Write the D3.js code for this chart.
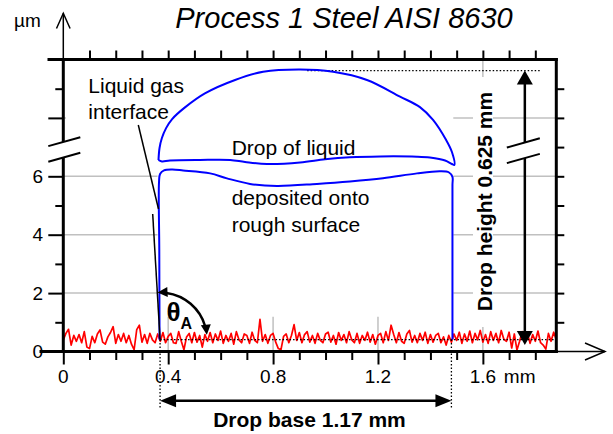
<!DOCTYPE html>
<html>
<head>
<meta charset="utf-8">
<script src="https://cdn.jsdelivr.net/npm/d3@7/dist/d3.min.js"></script>
<style>
  body { margin: 0; background: #fff; }
  svg { display: block; }
  text { font-family: "Liberation Sans", Arial, sans-serif; fill: #000; }
</style>
</head>
<body>
<div class="drop-chart"></div>
<script>
// ---- values ----
const titleText = "Process 1 Steel AISI 8630";
const xTickValues = [0, 0.4, 0.8, 1.2, 1.6];
const xTickLabels = ["0", "0.4", "0.8", "1.2", "1.6"];
const yTickValues = [0, 2, 4, 6];
const yTickLabels = ["0", "2", "4", "6"];
const gridX = [0.4, 0.8, 1.2, 1.6];
const gridY = [2, 4, 6, 8];

// surface roughness profile, one value every 0.01 mm (um)
const profileStep = 0.01;
const roughness = [
  0.40, 0.62, 0.76, 0.22, 0.55, 0.35, 0.58, 0.30, 0.68, 0.15,
  0.10, 0.52, 0.30, 0.60, 0.74, 0.32, 0.25, 0.50, 0.65, 0.85,
  0.28, 0.58, 0.35, 0.62, 0.30, 0.55, 0.25, 0.06, 0.75, 0.90,
  0.32, 0.58, 0.28, 0.62, 0.40, 0.30, 0.60, 0.35, 0.65, 0.30,
  0.52, 0.62, 0.30, 0.28, 0.68, 0.35, 0.06, 0.50, 0.62, 0.30,
  0.65, 0.32, 0.55, 0.15, 0.58, 0.35, 0.65, 0.30, 0.60, 0.38,
  0.70, 0.28, 0.55, 0.35, 0.62, 0.25, 0.68, 0.40, 0.30, 0.60,
  0.55, 0.28, 0.66, 0.38, 0.30, 1.10, 0.35, 0.58, 0.28, 0.55,
  0.62, 0.32, 0.10, 0.06, 0.52, 0.60, 0.30, 0.55, 0.92, 0.38,
  0.65, 0.30, 0.58, 0.68, 0.32, 0.55, 0.28, 0.62, 0.38, 0.30,
  0.60, 0.66, 0.32, 0.55, 0.25, 0.65, 0.38, 0.58, 0.30, 0.68,
  0.40, 0.30, 0.62, 0.28, 0.55, 0.38, 0.66, 0.32, 0.58, 0.25,
  0.55, 0.62, 0.30, 0.68, 0.38, 0.90, 0.58, 0.30, 0.65, 0.35,
  0.28, 0.60, 0.72, 0.32, 0.55, 0.30, 0.62, 0.38, 0.66, 0.28,
  0.58, 0.32, 0.55, 0.62, 0.30, 0.50, 0.22, 0.55, 0.32, 0.60,
  0.38, 0.66, 0.28, 0.60, 0.35, 0.70, 0.30, 0.62, 0.40, 0.72,
  0.32, 0.58, 0.28, 0.68, 0.38, 0.62, 0.30, 0.72, 0.42, 0.35,
  0.66, 0.12, 0.60, 0.05, 0.35, 0.68, 0.38, 0.62, 0.28, 0.58,
  0.35, 0.70, 0.30, 0.22, 0.08, 0.62, 0.35, 0.66, 0.40
];

// drop outline [mm, um on the drawn axis]
const capOutline = [
  [0.363, 6.56], [0.367, 6.97], [0.376, 7.31], [0.392, 7.65], [0.415, 7.96],
  [0.464, 8.36], [0.540, 8.84], [0.655, 9.30], [0.762, 9.58], [0.903, 9.66],
  [1.029, 9.58], [1.158, 9.30], [1.284, 8.73], [1.360, 8.37], [1.410, 7.93],
  [1.460, 7.24], [1.482, 6.83], [1.491, 6.39], [1.482, 6.42], [1.456, 6.54],
  [1.398, 6.64], [1.349, 6.67], [1.208, 6.68], [1.093, 6.65], [0.998, 6.58],
  [0.903, 6.47], [0.777, 6.42], [0.693, 6.49], [0.636, 6.56], [0.521, 6.56],
  [0.407, 6.54], [0.376, 6.51]
];
const baseOutline = [
  [0.367, 0.41], [0.366, 3.48], [0.365, 5.80], [0.369, 6.08], [0.384, 6.20],
  [0.415, 6.23], [0.457, 6.20], [0.560, 6.10], [0.624, 5.93], [0.712, 5.74],
  [0.815, 5.67], [0.967, 5.74], [1.093, 5.82], [1.219, 5.93], [1.349, 6.10],
  [1.437, 6.17], [1.471, 6.13], [1.484, 5.98], [1.484, 5.70], [1.484, 3.48],
  [1.484, 0.41]
];

const dropBase = [0.369, 1.48];
const baselineLevel = 0.41;
const dropTop = 9.62;
const heightArrowX = 1.76;
const heightArrowBottom = 0.22;

// ---- drawing ----
const width = 613, height = 434;
const x = d3.scaleLinear().domain([0, 1.88]).range([63.3, 556.3]);
const y = d3.scaleLinear().domain([0, 10]).range([351.5, 59.5]);

const svg = d3.select(".drop-chart").append("svg")
  .attr("width", width).attr("height", height);

svg.append("rect").attr("width", width).attr("height", height).attr("fill", "#fff");

// grid
const grid = svg.append("g").attr("stroke", "#c0c0c0").attr("stroke-width", 1.5);
grid.selectAll(".gy").data(gridY).enter().append("line")
  .attr("x1", x(0)).attr("x2", x(1.88))
  .attr("y1", d => y(d)).attr("y2", d => y(d));
grid.selectAll(".gx").data(gridX).enter().append("line")
  .attr("x1", d => x(d)).attr("x2", d => x(d))
  .attr("y1", y(0)).attr("y2", y(10));

// the pasted drop picture and the labels hide the grid
const allX = capOutline.concat(baseOutline).map(d => d[0]);
svg.append("rect")
  .attr("x", x(d3.min(allX)) - 1).attr("y", y(10))
  .attr("width", x(d3.max(allX)) - x(d3.min(allX)))
  .attr("height", y(1.19) - y(10))
  .attr("fill", "#fff");
svg.append("rect").attr("x", 66).attr("y", 62).attr("width", 93).attr("height", 68).attr("fill", "#fff");
svg.append("rect").attr("x", 473).attr("y", 77).attr("width", 20).attr("height", 250).attr("fill", "#fff");

// roughness profile
svg.append("path")
  .datum(roughness)
  .attr("fill", "none")
  .attr("stroke", "#ff0000")
  .attr("stroke-width", 1.7)
  .attr("stroke-linejoin", "round")
  .attr("d", d3.line().x((d, i) => x(i * profileStep)).y(d => y(d)));

// dotted helper lines
const dotted = svg.append("g")
  .attr("stroke", "#000").attr("stroke-width", 1.3).attr("stroke-dasharray", "1.5,2");
dotted.append("line")
  .attr("x1", x(dropBase[0])).attr("x2", x(1.87))
  .attr("y1", y(baselineLevel)).attr("y2", y(baselineLevel));
dotted.append("line")
  .attr("x1", x(0.93)).attr("x2", x(1.82))
  .attr("y1", y(dropTop)).attr("y2", y(dropTop));
dotted.selectAll(".v").data(dropBase).enter().append("line")
  .attr("x1", d => x(d)).attr("x2", d => x(d))
  .attr("y1", y(baselineLevel)).attr("y2", 409);

// drop
const outline = d3.line()
  .x(d => x(d[0])).y(d => y(d[1]))
  .curve(d3.curveCatmullRom.alpha(0.5));
svg.append("path")
  .datum(capOutline.concat([capOutline[0]]))
  .attr("fill", "none").attr("stroke", "#0000ff").attr("stroke-width", 2)
  .attr("d", outline);
svg.append("path")
  .datum(baseOutline)
  .attr("fill", "none").attr("stroke", "#0000ff").attr("stroke-width", 2)
  .attr("d", outline);

// leader + tangent lines
svg.append("line").attr("x1", 138.3).attr("y1", 125).attr("x2", 158.5).attr("y2", 209)
  .attr("stroke", "#000").attr("stroke-width", 1.5);
svg.append("line").attr("x1", 152.7).attr("y1", 214).attr("x2", x(dropBase[0])).attr("y2", y(baselineLevel))
  .attr("stroke", "#000").attr("stroke-width", 1.5);

// axes
const xAll = d3.range(19).map(i => i / 10);
const gx = svg.append("g")
  .attr("transform", `translate(0,${y(0)})`)
  .call(d3.axisBottom(x).tickValues(xAll).tickSize(8).tickFormat(""));
gx.select(".domain").remove();
gx.selectAll(".tick line").attr("stroke-width", 2).attr("y2", (d, i) => i % 4 === 0 ? 13 : 8.5);

const gt = svg.append("g")
  .attr("transform", `translate(0,${y(10)})`)
  .call(d3.axisTop(x).tickValues(xAll.slice(1)).tickSize(9).tickFormat(""));
gt.select(".domain").remove();
gt.selectAll(".tick line").attr("stroke-width", 2);

const yAll = d3.range(11);
const gy = svg.append("g")
  .attr("transform", `translate(${x(0)},0)`)
  .call(d3.axisLeft(y).tickValues(yAll).tickSize(8).tickFormat(""));
gy.select(".domain").remove();
gy.selectAll(".tick line").attr("stroke-width", 2).attr("x2", d => d % 2 === 0 ? -15 : -8);

const gr = svg.append("g")
  .attr("transform", `translate(${x(1.88)},0)`)
  .call(d3.axisRight(y).tickValues(yAll.slice(1, 10)).tickSize(8).tickFormat(""));
gr.select(".domain").remove();
gr.selectAll(".tick line").attr("stroke-width", 2);

// frame
const frame = svg.append("g").attr("stroke", "#000").attr("stroke-width", 3).attr("stroke-linecap", "square");
frame.append("line").attr("x1", 41).attr("x2", x(1.88)).attr("y1", y(0)).attr("y2", y(0));
frame.append("line").attr("x1", 49).attr("x2", x(1.88)).attr("y1", y(10)).attr("y2", y(10));
frame.append("line").attr("x1", x(0)).attr("x2", x(0)).attr("y1", y(0)).attr("y2", y(10));
frame.append("line").attr("x1", x(1.88)).attr("x2", x(1.88)).attr("y1", y(0)).attr("y2", y(10));

// axis arrows
const thin = svg.append("g").attr("stroke", "#000").attr("stroke-width", 1.5).attr("fill", "none");
thin.append("line").attr("x1", x(1.88)).attr("x2", 605).attr("y1", y(0)).attr("y2", y(0));
thin.append("polyline").attr("points", `585,${y(0) - 8.5} 605,${y(0)} 585,${y(0) + 8.5}`);
thin.append("line").attr("x1", x(0)).attr("x2", x(0)).attr("y1", y(10)).attr("y2", 13.3);
thin.append("polyline").attr("points", `${x(0) - 6.8},28.5 ${x(0)},13.3 ${x(0) + 6.8},28.5`);

// tick labels
svg.append("g").selectAll("text").data(xTickValues).enter().append("text")
  .attr("x", d => x(d)).attr("y", 383)
  .attr("text-anchor", "middle").attr("font-size", 19)
  .text((d, i) => xTickLabels[i]);
svg.append("text").attr("x", x(1.6) + 21).attr("y", 383).attr("font-size", 19).text("mm");
svg.append("g").selectAll("text").data(yTickValues).enter().append("text")
  .attr("x", 43).attr("y", d => y(d)).attr("dy", "0.35em")
  .attr("text-anchor", "end").attr("font-size", 19)
  .text((d, i) => yTickLabels[i]);
svg.append("text").attr("x", 14).attr("y", 26.7).attr("font-size", 19).text("µm");

// axis breaks
function axisBreak(cx, cy, left, right) {
  const s = -0.28, h = 7.8;
  const pts = [[left, left * s - h], [right, right * s - h], [right, right * s + h], [left, left * s + h]]
    .map(p => [cx + p[0], cy + p[1]]);
  svg.append("polygon").attr("points", pts.map(p => p.join(",")).join(" ")).attr("fill", "#fff");
  svg.append("line").attr("x1", pts[0][0]).attr("y1", pts[0][1]).attr("x2", pts[1][0]).attr("y2", pts[1][1])
    .attr("stroke", "#000").attr("stroke-width", 2);
  svg.append("line").attr("x1", pts[3][0]).attr("y1", pts[3][1]).attr("x2", pts[2][0]).attr("y2", pts[2][1])
    .attr("stroke", "#000").attr("stroke-width", 2);
}

// arrow heads
function arrowHead(tip, dir, len, half) {
  const bx = tip[0] - dir[0] * len, by = tip[1] - dir[1] * len;
  const px = -dir[1], py = dir[0];
  svg.append("polygon")
    .attr("points", `${tip[0]},${tip[1]} ${bx + px * half},${by + py * half} ${bx - px * half},${by - py * half}`)
    .attr("fill", "#000");
}

// drop height arrow
const hx = x(heightArrowX);
svg.append("line").attr("x1", hx).attr("x2", hx)
  .attr("y1", y(dropTop) + 12).attr("y2", y(heightArrowBottom) - 12)
  .attr("stroke", "#000").attr("stroke-width", 2.5);
arrowHead([hx, y(dropTop)], [0, -1], 14, 8);
arrowHead([hx, y(heightArrowBottom)], [0, 1], 14, 8);

axisBreak(x(0), y(6.91), -15, 17);
axisBreak(hx, y(6.89), -18, 15);

// drop base arrow
const by0 = 400.7;
svg.append("line").attr("x1", x(dropBase[0]) + 12).attr("x2", x(dropBase[1]) - 12)
  .attr("y1", by0).attr("y2", by0)
  .attr("stroke", "#000").attr("stroke-width", 2.5);
arrowHead([x(dropBase[0]), by0], [-1, 0], 16, 6.5);
arrowHead([x(dropBase[1]), by0], [1, 0], 16, 6.5);

// contact angle arc
const cx = x(dropBase[0]), cy = y(baselineLevel), r = 47;
const a0 = -0.054, a1 = 1.47, headLen = 9;
const pt = a => [cx + r * Math.sin(a), cy - r * Math.cos(a)];
const s0 = pt(a0 + headLen / r), s1 = pt(a1 - headLen / r);
svg.append("path")
  .attr("d", `M${s0[0]},${s0[1]} A${r},${r} 0 0 1 ${s1[0]},${s1[1]}`)
  .attr("fill", "none").attr("stroke", "#000").attr("stroke-width", 2.5);
arrowHead(pt(a0), [-Math.cos(a0), -Math.sin(a0)], headLen + 1, 5);
arrowHead(pt(a1), [Math.cos(a1), Math.sin(a1)], headLen + 1, 5);

// texts
svg.append("text").attr("x", 344).attr("y", 28).attr("text-anchor", "middle")
  .attr("font-size", 29).attr("font-style", "italic").text(titleText);
const labels = [
  ["Liquid gas", 88.3, 92.5],
  ["interface", 88.3, 118.5],
  ["Drop of liquid", 231.7, 155],
  ["deposited onto", 231.7, 205],
  ["rough surface", 231.7, 231.7]
];
svg.append("g").selectAll("text").data(labels).enter().append("text")
  .attr("x", d => d[1]).attr("y", d => d[2]).attr("font-size", 21).text(d => d[0]);

const theta = svg.append("text").attr("x", 166.5).attr("y", 321).attr("font-weight", "bold").attr("font-size", 26);
theta.append("tspan").text("θ");
theta.append("tspan").attr("font-size", 16).attr("dy", 8).text("A");

svg.append("text")
  .attr("transform", `translate(491.7,201.5) rotate(-90)`)
  .attr("text-anchor", "middle").attr("font-size", 21).attr("font-weight", "bold")
  .text("Drop height 0.625 mm");
svg.append("text").attr("x", 309.5).attr("y", 426.7)
  .attr("text-anchor", "middle").attr("font-size", 21).attr("font-weight", "bold")
  .text("Drop base 1.17 mm");
</script>
</body>
</html>
